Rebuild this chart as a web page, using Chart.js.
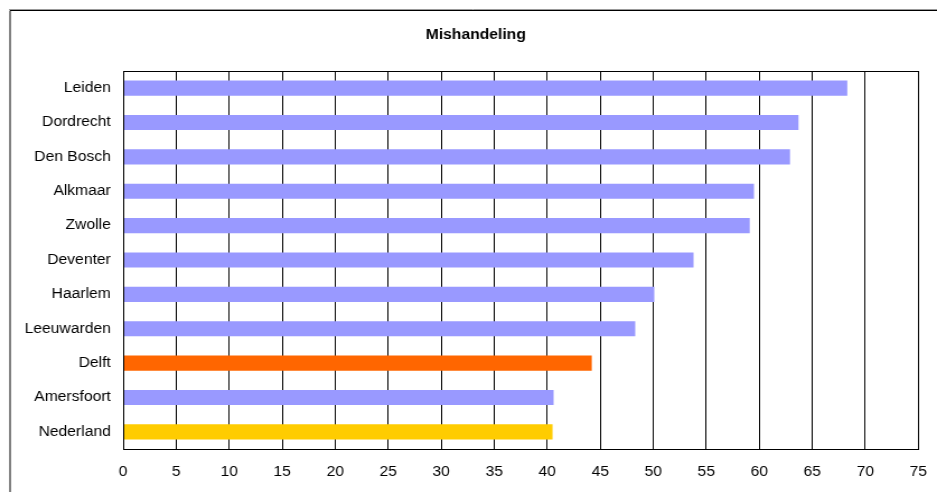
<!DOCTYPE html>
<html>
<head>
<meta charset="utf-8">
<script src="https://cdn.jsdelivr.net/npm/chart.js@4/dist/chart.umd.min.js"></script>
<style>
  html, body { margin: 0; padding: 0; background: #fff; }
  #c { display: block; }
</style>
</head>
<body>
<canvas id="c" width="837" height="492" style="width:937px;height:492px;"></canvas>
<script>
const chartTitle = 'Mishandeling';
const categories = ['Leiden', 'Dordrecht', 'Den Bosch', 'Alkmaar', 'Zwolle', 'Deventer', 'Haarlem', 'Leeuwarden', 'Delft', 'Amersfoort', 'Nederland'];
const values = [68.3, 63.7, 62.9, 59.5, 59.1, 53.8, 50.1, 48.3, 44.2, 40.6, 40.5];
const barColors = ['#9999FF', '#9999FF', '#9999FF', '#9999FF', '#9999FF', '#9999FF', '#9999FF', '#9999FF', '#FF6600', '#9999FF', '#FFCC00'];
const xMin = 0, xMax = 75, xStep = 5;

const FONT = '"Liberation Sans", Arial, sans-serif';

const framePlugin = {
  id: 'frame',
  afterDraw(chart) {
    const ctx = chart.ctx;
    const a = chart.chartArea;
    ctx.save();
    // plot border
    ctx.strokeStyle = '#000';
    ctx.lineWidth = 1;
    ctx.strokeRect(Math.round(a.left) + 0.5, Math.round(a.top) + 0.5, Math.round(a.right - a.left), Math.round(a.bottom - a.top));
    // outer frame
    ctx.strokeStyle = '#999';
    ctx.beginPath();
    ctx.moveTo(8, 9.5); ctx.lineTo(chart.width, 9.5);
    ctx.stroke();
    ctx.strokeStyle = '#000';
    ctx.beginPath();
    ctx.moveTo(9, chart.height); ctx.lineTo(9, 10.5); ctx.lineTo(chart.width, 10.5);
    ctx.stroke();
    // title
    ctx.fillStyle = '#000';
    ctx.font = 'bold 14px ' + FONT;
    ctx.textAlign = 'center';
    ctx.textBaseline = 'alphabetic';
    ctx.fillText(chartTitle, 425, 39);
    ctx.restore();
  }
};

new Chart(document.getElementById('c'), {
  type: 'bar',
  data: {
    labels: categories,
    datasets: [{
      data: values,
      backgroundColor: barColors,
      borderWidth: 0,
      barPercentage: 0.44,
      categoryPercentage: 1.0
    }]
  },
  options: {
    indexAxis: 'y',
    responsive: false,
    animation: false,
    devicePixelRatio: 1,
    layout: { padding: { left: 0, right: 16.7, top: 71, bottom: 0 } },
    plugins: {
      legend: { display: false },
      title: { display: false },
      tooltip: { enabled: false }
    },
    scales: {
      x: {
        min: xMin,
        max: xMax,
        ticks: { stepSize: xStep, color: '#000', font: { family: FONT, size: 14 }, padding: 15 },
        grid: { color: '#000', lineWidth: 1, drawTicks: false },
        border: { display: true, color: '#000', width: 1 },
        afterFit(scale) { scale.height = 43; scale.paddingRight = 0; scale.paddingLeft = 0; }
      },
      y: {
        ticks: { color: '#000', font: { family: FONT, size: 14 }, padding: 11 },
        grid: { display: false, drawTicks: false },
        border: { display: true, color: '#000', width: 1 },
        afterFit(scale) { scale.width = 110; scale.paddingTop = 0; scale.paddingBottom = 0; }
      }
    }
  },
  plugins: [framePlugin]
});
</script>
</body>
</html>
